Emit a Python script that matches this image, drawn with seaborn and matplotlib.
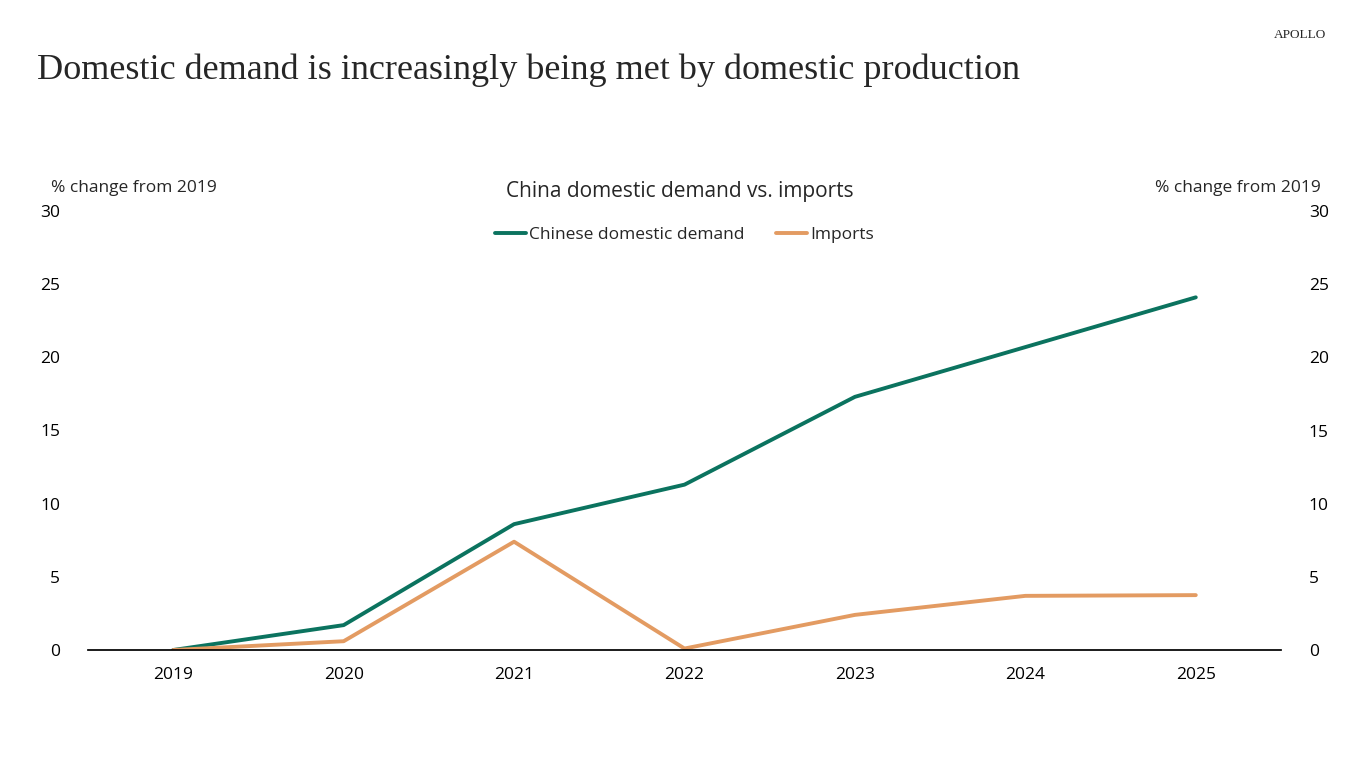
import matplotlib
matplotlib.use("Agg")
import matplotlib.pyplot as plt
import seaborn as sns
import pandas as pd

years = [2019, 2020, 2021, 2022, 2023, 2024, 2025]
domestic = [0, 1.7, 8.6, 11.3, 17.3, 20.7, 24.1]
imports = [0, 0.6, 7.4, 0.1, 2.4, 3.7, 3.75]
series_names = ["Chinese domestic demand", "Imports"]
colors = ["#0b735f", "#e39b62"]

sns.set_theme(style="white")
plt.rcParams['font.family'] = ['Open Sans', 'DejaVu Sans']

df = pd.DataFrame({"year": years * 2,
                   "value": domestic + imports,
                   "series": [series_names[0]] * 7 + [series_names[1]] * 7})

fig = plt.figure(figsize=(13.66, 7.68), dpi=100)
ax = fig.add_axes([88/1366, 118/768, (1281-88)/1366, (650-211)/768])
sns.lineplot(data=df, x="year", y="value", hue="series", palette=colors,
             linewidth=2.8, ax=ax, legend=False)
ax.set_xlim(2018.5, 2025.5)
ax.set_ylim(0, 30)
ax.set_xticks(years)
ax.set_xticklabels([str(y) for y in years])
ax.set_yticks(range(0, 31, 5))
ax.set_xlabel(""); ax.set_ylabel("")
for s in ["top", "right", "left"]:
    ax.spines[s].set_visible(False)
ax.spines["bottom"].set_color("black")
ax.tick_params(axis="both", length=0, labelsize=12.5, colors="black")
ax.tick_params(axis="x", pad=12)
ax.tick_params(axis="y", pad=20)
ax2 = ax.twinx()
ax2.set_ylim(0, 30)
ax2.set_yticks(range(0, 31, 5))
for s in ["top", "right", "left", "bottom"]:
    ax2.spines[s].set_visible(False)
ax2.tick_params(axis="y", length=0, labelsize=12.5, pad=20, colors="black")

from matplotlib.lines import Line2D
handles = [Line2D([], [], color=c, lw=2.8) for c in colors]
ax.legend(handles, series_names, loc="upper center", bbox_to_anchor=(0.5, 1.0),
          ncol=2, frameon=False, fontsize=12.5, handlelength=1.8,
          handletextpad=0.2, columnspacing=1.8)

fig.text(37/1366, 1 - 70/768, "Domestic demand is increasingly being met by domestic production",
         family=["Liberation Serif"], fontsize=26, va="center", ha="left")
fig.text(1326/1366, 1 - 35/768, "APOLLO", family=["Liberation Serif"], fontsize=9.5,
         va="center", ha="right")
fig.text(680/1366, 1 - 192/768, "China domestic demand vs. imports", fontsize=15,
         va="center", ha="center")
fig.text(51/1366, 1 - 188/768, "% change from 2019", fontsize=12.5, va="center", ha="left")
fig.text(1321/1366, 1 - 188/768, "% change from 2019", fontsize=12.5, va="center", ha="right")

fig.savefig("out.png", dpi=100)
